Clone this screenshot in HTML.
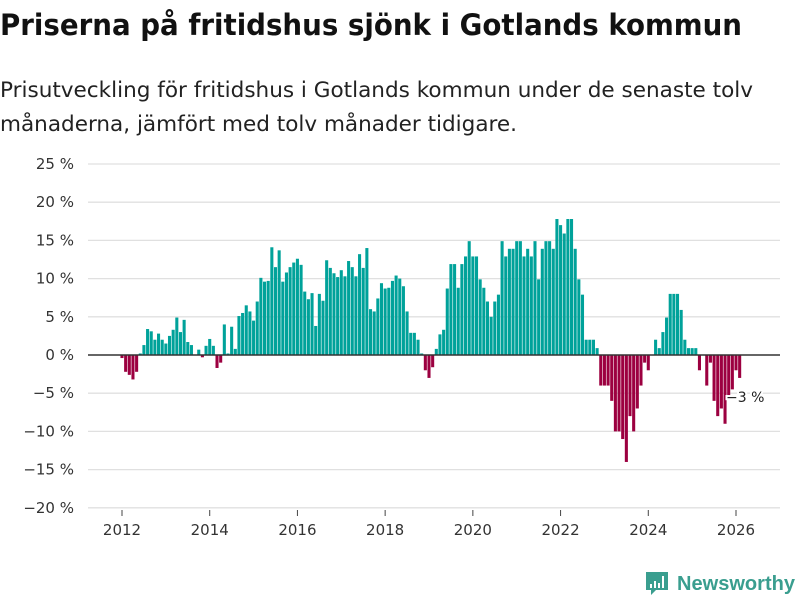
<!DOCTYPE html>
<html><head><meta charset="utf-8"><style>
html,body{margin:0;padding:0;background:#fff;}
svg{display:block;font-family:"DejaVu Sans","Liberation Sans",sans-serif;}
</style></head><body>
<svg id="chart" width="800" height="600" viewBox="0 0 800 600">
<text x="0" y="35" font-size="29" font-weight="bold" fill="#111" textLength="742" lengthAdjust="spacingAndGlyphs">Priserna på fritidshus sjönk i Gotlands kommun</text>
<text x="0" y="97" font-size="21" fill="#222" textLength="753" lengthAdjust="spacingAndGlyphs">Prisutveckling för fritidshus i Gotlands kommun under de senaste tolv</text>
<text x="0" y="131" font-size="21" fill="#222" textLength="517" lengthAdjust="spacingAndGlyphs">månaderna, jämfört med tolv månader tidigare.</text>
<g id="grid"></g>
<g id="bars"></g>
<g id="xaxis"></g>
<g>
<text x="726" y="402" font-size="14" fill="#222" stroke="#fff" stroke-width="4" paint-order="stroke">−3 %</text>
</g>
<g>
<path d="M646 572 h22 v18 h-12 l-5 5 v-5 h-5 z" fill="#3a9e8f"/>
<rect x="650" y="584" width="2" height="4" fill="#fff"/>
<rect x="654" y="581" width="2" height="7" fill="#fff"/>
<rect x="658" y="583" width="2" height="5" fill="#fff"/>
<rect x="662" y="576" width="2" height="12" fill="#fff"/>
<text x="677" y="590" font-size="20" font-weight="bold" fill="#3a9e8f" textLength="118" lengthAdjust="spacingAndGlyphs" font-family="Liberation Sans, sans-serif">Newsworthy</text>
</g>
</svg>
<script>
const startYear = 2012;
const values = [
-0.4,-2.2,-2.6,-3.2,-2.2,0.2,1.3,3.4,3.1,2.0,2.8,2.0,1.5,2.5,3.3,4.9,3.0,4.6,1.7,1.3,0,0.7,-0.3,1.2,2.1,1.2,-1.7,-1.0,4.0,0.2,3.7,0.8,5.1,5.5,6.5,5.7,4.5,7.0,10.1,9.6,9.7,14.1,11.5,13.7,
9.6,10.8,11.5,12.1,12.6,11.8,8.3,7.3,8.1,3.8,8.0,7.1,12.4,11.4,10.7,10.2,11.1,10.3,12.3,11.5,10.3,13.2,11.4,14.0,6.0,5.7,7.4,9.4,8.7,8.8,9.7,10.4,10.0,9.0,5.7,2.9,2.9,2.0,0.2,-2.0,-3.0,-1.6,
0.8,2.7,3.3,8.7,11.9,11.9,8.8,11.9,12.9,14.9,12.9,12.9,9.9,8.8,7.0,5.0,7.0,7.9,14.9,12.9,13.9,13.9,14.9,14.9,12.9,13.9,12.9,14.9,9.9,13.9,14.9,14.9,13.9,17.8,17.0,15.9,17.8,17.8,13.9,9.9,7.9,2.0,2.0,2.0,
0.9,-4,-4,-4,-6,-10,-10,-11,-14,-8,-10,-7,-4,-1,-2,0,2,0.9,3,4.9,8,8,8,5.9,2,0.9,0.9,0.9,-2,0,-4,-1,-6,-8,-7,-9,-5.5,-4.5,-2,-3
];
const yTicks = [25,20,15,10,5,0,-5,-10,-15,-20];
const yTickLabels = ["25 %","20 %","15 %","10 %","5 %","0 %","−5 %","−10 %","−15 %","−20 %"];
const xTicks = [2012,2014,2016,2018,2020,2022,2024,2026];
const xTickLabels = ["2012","2014","2016","2018","2020","2022","2024","2026"];

const NS="http://www.w3.org/2000/svg";
function y(v){return 355 - v*(355-164)/25;}
function x(t){return 122 + (t-2012)*(736-122)/14;}
function mk(tag,attrs,parent){const e=document.createElementNS(NS,tag);for(const k in attrs)e.setAttribute(k,attrs[k]);parent.appendChild(e);return e;}
const grid=document.getElementById('grid'), bars=document.getElementById('bars'), xa=document.getElementById('xaxis');
yTicks.forEach((t,i)=>{
  if(t!==0){const l=mk('line',{x1:88,x2:780,y1:y(t),y2:y(t),stroke:'#e0e0e0','stroke-width':1.3},grid);
  
  }
  const tx=mk('text',{x:74,y:y(t)+5,'font-size':15,fill:'#333','text-anchor':'end'},grid);
  tx.textContent=yTickLabels[i];
  
  
});
const bw=(x(2013)-x(2012))/12;
values.forEach((v,i)=>{
  const cx=x(startYear+i/12);
  const r=mk('rect',{x:cx-bw*0.42,width:bw*0.84,y:Math.min(y(v),y(0)),height:Math.abs(y(v)-y(0)),fill:v>=0?'#00a29a':'#9c0040'},bars);
  
  
});
const z=mk('line',{x1:88,x2:780,y1:y(0),y2:y(0),stroke:'#333','stroke-width':1.6},xa);


xTicks.forEach((t,i)=>{
  const tk=mk('line',{x1:x(t),x2:x(t),y1:510,y2:516,stroke:'#444','stroke-width':1},xa);
  
  
  const tx=mk('text',{x:x(t),y:535,'font-size':15,fill:'#333','text-anchor':'middle'},xa);
  tx.textContent=xTickLabels[i];
  
  
});
</script>
</body></html>
